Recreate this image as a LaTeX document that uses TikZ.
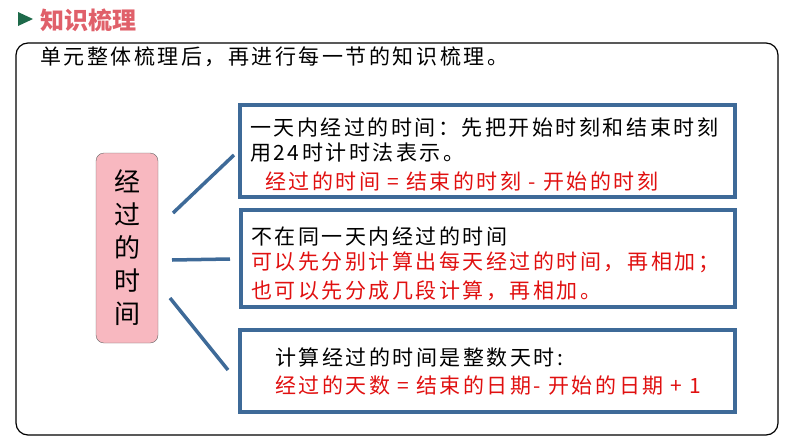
\documentclass[tikz,border=0pt]{standalone}
\usepackage{fontspec}
\setmainfont{Noto Sans CJK SC}
\newfontfamily\widecjk[LetterSpace=12]{Noto Sans CJK SC}
\definecolor{linkblue}{HTML}{3E6A98}
\definecolor{tagpink}{HTML}{F8B8C0}
\definecolor{headred}{HTML}{E0606A}
\definecolor{txtred}{HTML}{E01010}
\definecolor{arrowgreen}{HTML}{1E6A4A}
\tikzset{
  topicbox/.style={draw=linkblue,line width=3.5pt},
  link/.style={linkblue,line width=3.5pt},
  line/.style={anchor=west,inner sep=0pt,font=\widecjk\fontsize{21}{21}\selectfont},
  redline/.style={line,text=txtred}
}
\begin{document}
\begin{tikzpicture}[x=1pt,y=-1pt]
\useasboundingbox (0,0) rectangle (794,447);
% heading
\fill[arrowgreen] (18,12) -- (33,19) -- (18,26) -- cycle;
\node[anchor=west,inner sep=0pt,text=headred,font=\fontsize{24}{24}\selectfont\bfseries] (head) at (40,20) {知识梳理};
\draw[line width=1.2pt,rounded corners=12pt] (16,43) rectangle (778,435);
\node[line] (intro) at (40,57) {单元整体梳理后，再进行每一节的知识梳理。};
% centre tag
\node[draw=black!60,fill=tagpink,rounded corners=8pt,minimum width=62pt,minimum height=190pt,
      align=center,font=\fontsize{26}{33}\selectfont] (tag) at (127,248) {经\\过\\的\\时\\间};
% boxes
\draw[topicbox] (240,105) rectangle (735,197);
\draw[topicbox] (241,210) rectangle (735,307);
\draw[topicbox] (240,330) rectangle (735,412);
\coordinate (b1) at (234,155);
\coordinate (b2) at (230,259);
\coordinate (b3) at (228,370);
\draw[link] (173,213) -- (b1);
\draw[link] (172,260) -- (b2);
\draw[link] (170,298) -- (b3);
% texts
\node[line] (t11) at (250,128) {一天内经过的时间：先把开始时刻和结束时刻};
\node[line] (t12) at (250,153) {用24时计时法表示。};
\node[redline] (t13) at (265,182) {经过的时间 = 结束的时刻 - 开始的时刻};
\node[line] (t21) at (251,236) {不在同一天内经过的时间};
\node[redline] (t22) at (251,262) {可以先分别计算出每天经过的时间，再相加；};
\node[redline] (t23) at (251,291) {也可以先分成几段计算，再相加。};
\node[line] (t31) at (275,357) {计算经过的时间是整数天时:};
\node[redline] (t32) at (275,386) {经过的天数 = 结束的日期- 开始的日期 + 1};
\end{tikzpicture}
\end{document}
